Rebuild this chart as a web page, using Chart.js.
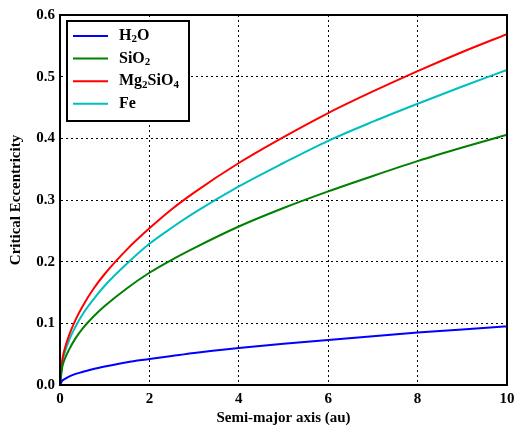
<!DOCTYPE html>
<html>
<head>
<meta charset="utf-8">
<script src="https://cdn.jsdelivr.net/npm/chart.js@4"></script>
<style>
  html, body { margin: 0; padding: 0; background: #fff; }
  #wrap { width: 515px; height: 429px; }
</style>
</head>
<body>
<div id="wrap"><canvas id="mainChart"></canvas></div>
<script>
    // semi-major axis (au) sample points
    const semiMajor = [0, 0.05, 0.1, 0.2, 0.35, 0.5, 0.75, 1, 1.5, 2, 2.5, 3, 4, 5, 6, 7, 8, 9, 10];

    // critical eccentricity
    const h2o     = [0, 0.007, 0.0095, 0.0135, 0.018, 0.021, 0.026, 0.030, 0.037, 0.042, 0.047, 0.052, 0.060, 0.067, 0.073, 0.079, 0.085, 0.090, 0.095];
    const sio2    = [0, 0.029, 0.041, 0.057, 0.076, 0.091, 0.111, 0.128, 0.157, 0.182, 0.203, 0.222, 0.257, 0.287, 0.314, 0.339, 0.363, 0.385, 0.406];
    const mg2sio4 = [0, 0.040, 0.057, 0.080, 0.106, 0.127, 0.156, 0.180, 0.220, 0.254, 0.285, 0.312, 0.360, 0.402, 0.441, 0.476, 0.509, 0.540, 0.569];
    const fe      = [0, 0.036, 0.051, 0.072, 0.095, 0.114, 0.139, 0.161, 0.197, 0.229, 0.255, 0.279, 0.322, 0.360, 0.396, 0.427, 0.456, 0.484, 0.511];

    const seriesNames = ['H₂O', 'SiO₂', 'Mg₂SiO₄', 'Fe'];
    const seriesColors = ['#0000ff', '#008000', '#ff0000', '#00bfbf'];
    const xTicks = [0, 2, 4, 6, 8, 10];
    const yTicks = [0, 0.1, 0.2, 0.3, 0.4, 0.5, 0.6];

    const serif = "'Liberation Serif', 'DejaVu Serif', serif";
    const subDigits = { '₀': '0', '₁': '1', '₂': '2', '₃': '3', '₄': '4', '₅': '5', '₆': '6', '₇': '7', '₈': '8', '₉': '9' };

    function toPoints(ys) {
        return ys.map((y, i) => ({ x: semiMajor[i], y: y }));
    }

    // draws text where unicode subscript digits are shown smaller and lowered
    function drawSubText(ctx, text, x, y, size) {
        let cx = x;
        for (const ch of text) {
            const sub = subDigits[ch];
            if (sub) {
                ctx.font = `bold ${Math.round(size * 0.7)}px ${serif}`;
                ctx.fillText(sub, cx, y + size * 0.22);
                cx += ctx.measureText(sub).width;
            } else {
                ctx.font = `bold ${size}px ${serif}`;
                ctx.fillText(ch, cx, y);
                cx += ctx.measureText(ch).width;
            }
        }
    }

    const framePlugin = {
        id: 'frame',
        afterDraw(chart) {
            const { ctx, chartArea: a } = chart;
            ctx.save();
            ctx.strokeStyle = '#000';
            ctx.lineWidth = 2;
            ctx.strokeRect(a.left, a.top, a.right - a.left, a.bottom - a.top);

            // legend box, matplotlib style
            const bx = a.left + 7, by = a.top + 6, bw = 122, bh = 100;
            ctx.fillStyle = '#fff';
            ctx.fillRect(bx, by, bw, bh);
            ctx.strokeRect(bx, by, bw, bh);
            chart.data.datasets.forEach((ds, i) => {
                const ly = by + 15 + i * 22.6;
                ctx.strokeStyle = ds.borderColor;
                ctx.lineWidth = 2;
                ctx.beginPath();
                ctx.moveTo(bx + 6, ly);
                ctx.lineTo(bx + 41, ly);
                ctx.stroke();
                ctx.fillStyle = '#000';
                ctx.textBaseline = 'middle';
                ctx.textAlign = 'left';
                drawSubText(ctx, ds.label, bx + 52, ly, 16);
            });
            ctx.restore();
        }
    };

    const ctx = document.getElementById('mainChart').getContext('2d');
    const mainChart = new Chart(ctx, {
        type: 'line',
        data: {
            datasets: [h2o, sio2, mg2sio4, fe].map((ys, i) => ({
                label: seriesNames[i],
                data: toPoints(ys),
                borderColor: seriesColors[i],
                backgroundColor: seriesColors[i],
                borderWidth: 2,
                pointRadius: 0,
                cubicInterpolationMode: 'monotone',
                fill: false
            }))
        },
        options: {
            responsive: true,
            maintainAspectRatio: false,
            animation: false,
            layout: { padding: { top: 15, right: 8, left: 0, bottom: 0 } },
            plugins: { legend: { display: false }, tooltip: { enabled: false } },
            scales: {
                x: {
                    type: 'linear',
                    min: 0,
                    max: 10,
                    afterFit: s => { s.height = 44; s.paddingLeft = 0; s.paddingRight = 0; },
                    afterBuildTicks: s => { s.ticks = xTicks.map(v => ({ value: v })); },
                    grid: { color: '#000', lineWidth: 1, drawTicks: false },
                    border: { display: true, color: '#000', width: 2, dash: [2, 3] },
                    ticks: {
                        padding: 5,
                        color: '#000',
                        font: { family: serif, size: 15, weight: 'bold' },
                        maxRotation: 0
                    },
                    title: {
                        display: true,
                        text: 'Semi-major axis (au)',
                        color: '#000',
                        font: { family: serif, size: 15, weight: 'bold' },
                        padding: { top: 0, bottom: 2 }
                    }
                },
                y: {
                    min: 0,
                    max: 0.6,
                    afterFit: s => { s.width = 60; s.paddingTop = 0; s.paddingBottom = 0; },
                    afterBuildTicks: s => { s.ticks = yTicks.map(v => ({ value: v })); },
                    grid: { color: '#000', lineWidth: 1, drawTicks: false },
                    border: { display: true, color: '#000', width: 2, dash: [2, 3] },
                    ticks: {
                        padding: 5,
                        color: '#000',
                        font: { family: serif, size: 15, weight: 'bold' },
                        callback: v => v.toFixed(1)
                    },
                    title: {
                        display: true,
                        text: 'Critical Eccentricity',
                        color: '#000',
                        font: { family: serif, size: 15, weight: 'bold' },
                        padding: { top: 7, bottom: 0 }
                    }
                }
            }
        },
        plugins: [framePlugin]
    });
</script>
</body>
</html>
